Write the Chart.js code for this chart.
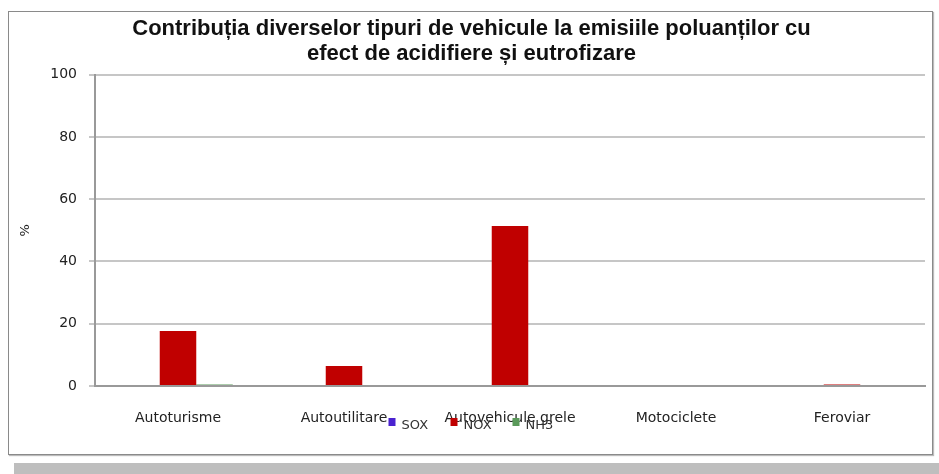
<!DOCTYPE html>
<html>
<head>
<meta charset="utf-8">
<script src="https://cdn.jsdelivr.net/npm/chart.js@4/dist/chart.umd.min.js"></script>
<style>
  html, body { margin: 0; padding: 0; background: #fff; }
  #wrap { position: relative; width: 939px; height: 474px; }
  #frame { position: absolute; left: 8px; top: 11px; width: 923px; height: 442px;
           border: 1px solid #8a8a8a; box-shadow: 1px 1px 1px #bbb; }
  #band { position: absolute; left: 14px; top: 463px; width: 925px; height: 11px; background: #bebebe; }
  canvas { position: absolute; left: 0; top: 0; }
</style>
</head>
<body>
<div id="wrap">
  <div id="frame"></div>
  <div id="band"></div>
  <canvas id="canvas" width="939" height="474"></canvas>
</div>
<script>
// categories and series (percent)
var categories = ['Autoturisme', 'Autoutilitare', 'Autovehicule grele', 'Motociclete', 'Feroviar'];
var seriesNames = ['SOX', 'NOX', 'NH3'];
var soxValues = [0, 0, 0, 0, 0];
var noxValues = [17.7, 6.4, 51.4, 0, 0.5];
var nh3Values = [0.5, 0, 0, 0, 0];
var yTicks = [0, 20, 40, 60, 80, 100];

var colors = ['#4a22d0', '#c00000', '#5a9a5a'];
var labelFont = { family: 'DejaVu Sans', size: 14 };

// legend drawn on top of the category labels, like the original
var overlapLegend = {
    id: 'overlapLegend',
    afterDraw: function(chart){
        var ctx = chart.ctx;
        var items = chart.data.datasets;
        var step = 62, y = 424;
        var x0 = chart.width / 2 - (items.length * step) / 2 + 12;
        ctx.save();
        ctx.font = '13px "DejaVu Sans"';
        ctx.textBaseline = 'middle';
        for(var i = 0; i < items.length; i++){
            var x = x0 + i * step;
            ctx.fillStyle = items[i].backgroundColor;
            ctx.fillRect(x, y - 6, 7, 8);
            ctx.fillStyle = '#333';
            ctx.fillText(items[i].label, x + 13, y + 2);
        }
        ctx.restore();
    }
};

var ctx = document.getElementById('canvas').getContext('2d');
var chart = new Chart(ctx, {
    type: 'bar',
    data: {
        labels: categories,
        datasets: [
            { label: seriesNames[0], data: soxValues, backgroundColor: colors[0] },
            { label: seriesNames[1], data: noxValues, backgroundColor: colors[1] },
            { label: seriesNames[2], data: nh3Values, backgroundColor: colors[2] }
        ]
    },
    options: {
        responsive: false,
        animation: false,
        layout: { padding: { left: 18, right: 14, top: 17, bottom: 0 } },
        datasets: { bar: { categoryPercentage: 0.66, barPercentage: 1.0 } },
        plugins: {
            legend: { display: false },
            tooltip: { enabled: false },
            title: {
                display: true,
                text: ['Contribuția diverselor tipuri de vehicule la emisiile poluanților cu',
                       'efect de acidifiere și eutrofizare'],
                color: '#111',
                font: { family: '"Liberation Sans", Arial', size: 22, weight: 'bold', lineHeight: 1.13 },
                padding: { top: 0, bottom: 8 }
            }
        },
        scales: {
            x: {
                grid: { display: false, drawTicks: false },
                border: { display: true, color: '#999', width: 2 },
                ticks: { color: '#222', font: labelFont, padding: 24, maxRotation: 0, autoSkip: false },
                afterFit: function(scale){ scale.height = 88; }
            },
            y: {
                min: 0, max: 100,
                afterBuildTicks: function(scale){
                    scale.ticks = yTicks.map(function(v){ return { value: v }; });
                },
                grid: { color: '#c6c6c6', lineWidth: 2, tickLength: 6 },
                border: { display: true, color: '#999', width: 2 },
                ticks: { color: '#222', font: labelFont, padding: 12 },
                title: { display: true, text: '%', color: '#222', font: { family: 'DejaVu Sans', size: 13 }, padding: { top: 0, bottom: 8 } },
                afterFit: function(scale){ scale.width = 77; }
            }
        }
    },
    plugins: [overlapLegend]
});
</script>
</body>
</html>
